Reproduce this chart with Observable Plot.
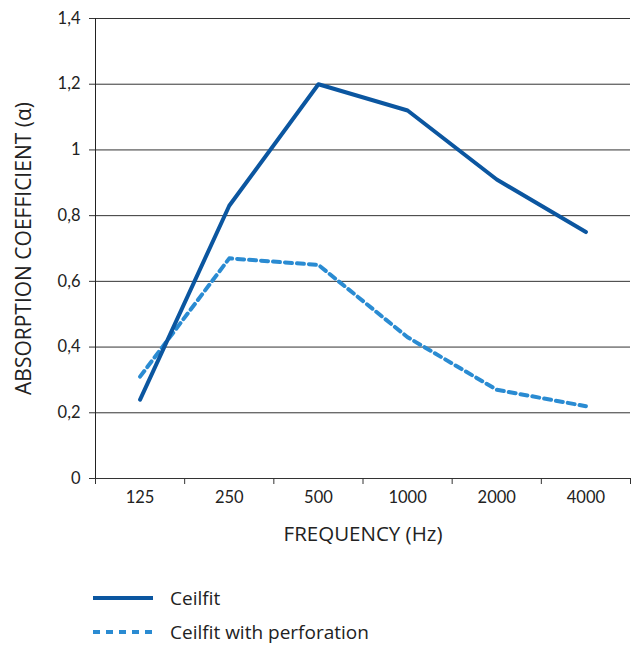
<!DOCTYPE html>
<html>
<head>
<meta charset="utf-8">
<script src="https://cdn.jsdelivr.net/npm/d3@7"></script>
<script src="https://cdn.jsdelivr.net/npm/@observablehq/plot@0.6"></script>
<style>
  body { margin: 0; background: #fff; font-family: "Open Sans", Lato, sans-serif; }
  #wrap { position: relative; width: 638px; height: 649px; }
  .leg { position: absolute; left: 93px; display: flex; align-items: center; font-size: 19px; color: #222; }
  .leg svg { margin-right: 17px; }
</style>
</head>
<body>
<div id="wrap"></div>
<script>
const frequencies = ["125", "250", "500", "1000", "2000", "4000"];
const ceilfit = [0.24, 0.83, 1.20, 1.12, 0.91, 0.75];
const perforated = [0.31, 0.67, 0.65, 0.43, 0.27, 0.22];
const yTicks = [0, 0.2, 0.4, 0.6, 0.8, 1.0, 1.2, 1.4];
const seriesNames = ["Ceilfit", "Ceilfit with perforation"];
const colors = ["#0b56a0", "#2a8bd2"];

const rowsA = frequencies.map((f, i) => ({i: i + 0.5, v: ceilfit[i]}));
const rowsB = frequencies.map((f, i) => ({i: i + 0.5, v: perforated[i]}));
const centers = frequencies.map((f, i) => i + 0.5);
const bounds = d3.range(frequencies.length + 1);
const fmt = d => d === 0 ? "0" : String(+d.toFixed(1)).replace(".", ",");

const chart = Plot.plot({
  width: 638,
  height: 560,
  marginLeft: 95,
  marginRight: 8,
  marginTop: 18,
  marginBottom: 82,
  style: {fontFamily: "Lato, 'Open Sans', sans-serif", fontSize: "16.5px", color: "#222"},
  x: {type: "linear", domain: [0, frequencies.length]},
  y: {domain: [0, 1.4]},
  marks: [
    Plot.gridY(yTicks, {stroke: "#333", strokeOpacity: 1, strokeWidth: 1}),
    Plot.axisY(yTicks, {tickSize: 6, tickPadding: 9, tickFormat: fmt, fontSize: 16.5, stroke: "#333", label: null}),
    Plot.ruleX([0], {stroke: "#222", strokeWidth: 1}),
    Plot.axisX(bounds, {tickSize: 6, tickFormat: () => "", stroke: "#333", label: null}),
    Plot.axisX(centers, {tickSize: 0, tickPadding: 13, tickFormat: (d) => frequencies[Math.floor(d)], fontSize: 16.5, label: null}),
    Plot.line(rowsB, {x: "i", y: "v", stroke: colors[1], strokeWidth: 4, strokeDasharray: "7,5"}),
    Plot.line(rowsA, {x: "i", y: "v", stroke: colors[0], strokeWidth: 4}),
    Plot.text(["ABSORPTION COEFFICIENT (α)"], {frameAnchor: "left", dx: -71, rotate: -90, textAnchor: "middle", fontSize: 21, fontFamily: "'Open Sans', sans-serif", fill: "#222"}),
    Plot.text(["FREQUENCY (Hz)"], {frameAnchor: "bottom", dy: 62, textAnchor: "middle", fontSize: 20.5, fontFamily: "'Open Sans', sans-serif", fill: "#222"})
  ]
});
const wrap = document.getElementById("wrap");
wrap.appendChild(chart);

const legTops = [586, 620];
seriesNames.forEach((name, k) => {
  const div = document.createElement("div");
  div.className = "leg";
  div.style.top = legTops[k] + "px";
  div.style.height = "24px";
  const dash = k === 1 ? ' stroke-dasharray="7,6"' : '';
  div.innerHTML = `<svg width="60" height="24"><line x1="0" x2="60" y1="12" y2="12" stroke="${colors[k]}" stroke-width="4"${dash}/></svg><span>${name}</span>`;
  wrap.appendChild(div);
});
</script>
</body>
</html>
